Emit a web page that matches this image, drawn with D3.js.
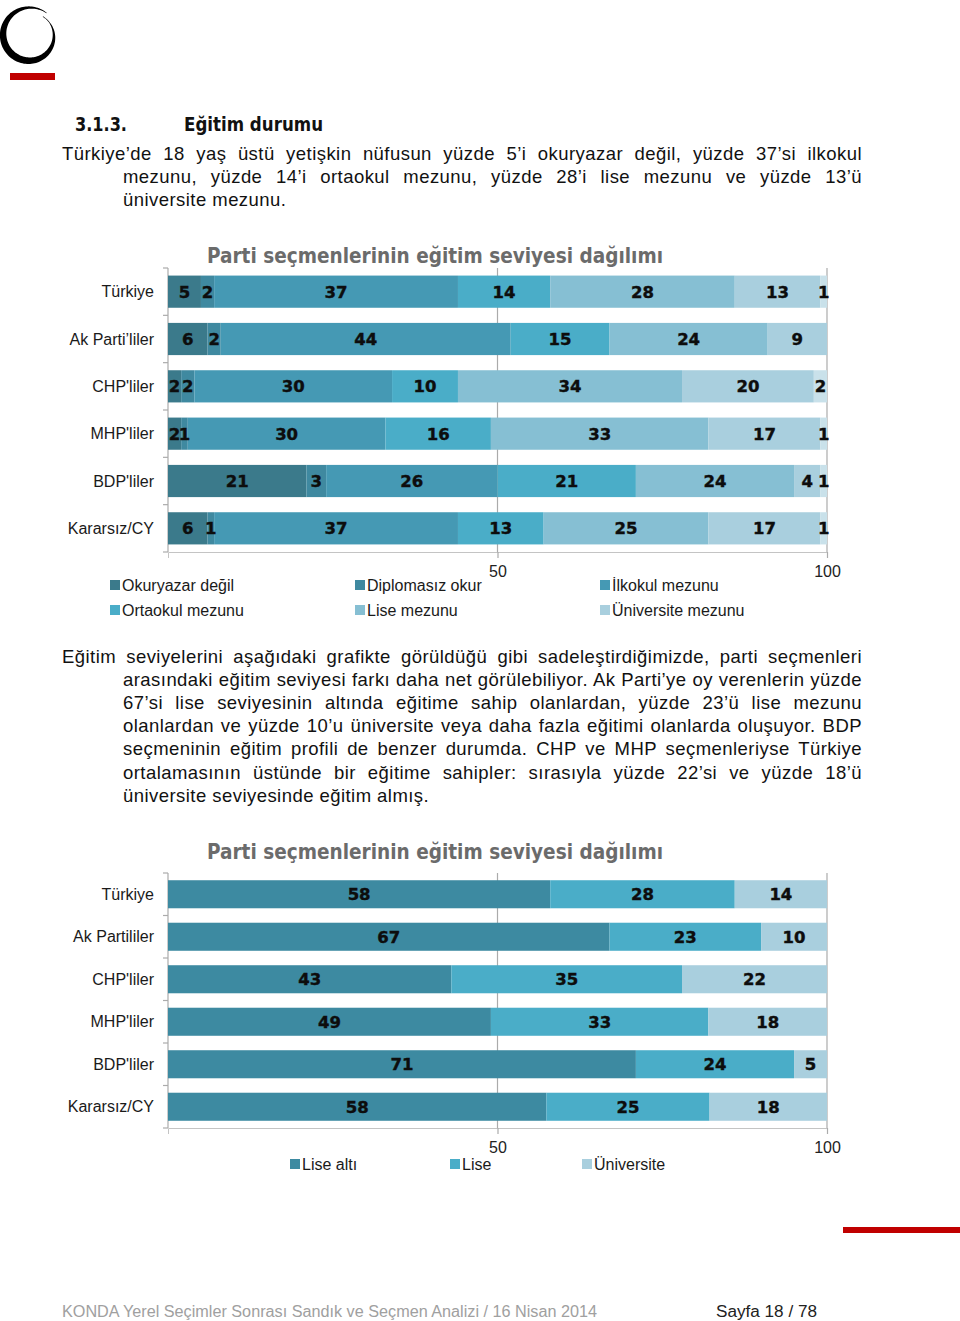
<!DOCTYPE html>
<html lang="tr">
<head>
<meta charset="utf-8">
<script src="https://cdn.jsdelivr.net/npm/d3@7"></script>
<style>
  html, body { margin: 0; padding: 0; background: #fff; }
  body { width: 960px; height: 1321px; position: relative; overflow: hidden; }
  svg { position: absolute; left: 0; top: 0; }
  .line { position: absolute; font-family: "Liberation Sans", Arial, sans-serif; font-size: 18.5px;
          letter-spacing: 0.45px; line-height: 23px; color: #111; white-space: nowrap; }
  .just { text-align: justify; text-align-last: justify; }
</style>
</head>
<body>
<svg id="page" width="960" height="1321"></svg>
<script>
// ---------------- DATA ----------------
const categories1 = ["Türkiye", "Ak Parti’liler", "CHP'liler", "MHP'liler", "BDP'liler", "Kararsız/CY"];
const series1 = ["Okuryazar değil", "Diplomasız okur", "İlkokul mezunu", "Ortaokul mezunu", "Lise mezunu", "Üniversite mezunu", "Lisansüstü"];
const legend1 = ["Okuryazar değil", "Diplomasız okur", "İlkokul mezunu", "Ortaokul mezunu", "Lise mezunu", "Üniversite mezunu"];
const okuryazarDegil = [5, 6, 2, 2, 21, 6];
const diplomasizOkur = [2, 2, 2, 1, 3, 1];
const ilkokulMezunu  = [37, 44, 30, 30, 26, 37];
const ortaokulMezunu = [14, 15, 10, 16, 21, 13];
const liseMezunu     = [28, 24, 34, 33, 24, 25];
const universiteMez  = [13, 9, 20, 17, 4, 17];
const lisansustu     = [1, 0, 2, 1, 1, 1];

const categories2 = ["Türkiye", "Ak Partililer", "CHP'liler", "MHP'liler", "BDP'liler", "Kararsız/CY"];
const series2 = ["Lise altı", "Lise", "Üniversite"];
const liseAlti   = [58, 67, 43, 49, 71, 58];
const lise       = [28, 23, 35, 33, 24, 25];
const universite = [14, 10, 22, 18, 5, 18];

const axisTicks = [50, 100];
const chartTitle = "Parti seçmenlerinin eğitim seviyesi dağılımı";

// ---------------- STYLES ----------------
const colors1 = ["#3b7a8b", "#3f89a0", "#4599b4", "#4aadc8", "#86bfd3", "#a9cfde", "#c9e1ea"];
const colors2 = ["#3d8aa1", "#4aadc8", "#a9cfde"];
const svg = d3.select("#page");

// ---------------- PAGE DECORATION (logo) ----------------
(function logo() {
  const cx = 30, cy = 35, n = 120;
  const pts = d3.range(n + 1).map(i => i / n);
  const ang = t => (53 + t * 362) * Math.PI / 180;
  const R = t => 27.5 - 5 * t * t;
  const W = t => 0.6 + 6.5 * Math.pow(Math.sin(Math.PI * Math.min(1, t * 1.05)), 1.2);
  const outer = pts.map(t => [cx + (R(t) + W(t) / 2) * Math.cos(ang(t)), cy - (R(t) + W(t) / 2) * Math.sin(ang(t))]);
  const inner = pts.map(t => [cx + (R(t) - W(t) / 2) * Math.cos(ang(t)), cy - (R(t) - W(t) / 2) * Math.sin(ang(t))]).reverse();
  svg.append("path").attr("d", d3.line()(outer.concat(inner)) + "Z").attr("fill", "#000");
})();
svg.append("rect").attr("x", 10).attr("y", 73).attr("width", 45).attr("height", 7).attr("fill", "#c00000");
svg.append("rect").attr("x", 843).attr("y", 1227).attr("width", 117).attr("height", 6).attr("fill", "#c00000");

const headFont = "'DejaVu Sans Condensed', 'DejaVu Sans', sans-serif";
svg.append("text").attr("x", 75).attr("y", 131).attr("font-family", headFont).attr("font-weight", "bold")
  .attr("font-size", 19).attr("fill", "#111").attr("textLength", 52).attr("lengthAdjust", "spacingAndGlyphs").text("3.1.3.");
svg.append("text").attr("x", 184).attr("y", 131).attr("font-family", headFont).attr("font-weight", "bold")
  .attr("font-size", 19).attr("fill", "#111").attr("textLength", 139).attr("lengthAdjust", "spacingAndGlyphs").text("Eğitim durumu");

svg.append("text").attr("x", 62).attr("y", 1317).attr("font-family", "'Liberation Sans', Arial, sans-serif")
  .attr("font-size", 16).attr("fill", "#a0a0a0").attr("textLength", 535).attr("lengthAdjust", "spacingAndGlyphs")
  .text("KONDA Yerel Seçimler Sonrası Sandık ve Seçmen Analizi / 16 Nisan 2014");
svg.append("text").attr("x", 716).attr("y", 1317).attr("font-family", "'Liberation Sans', Arial, sans-serif")
  .attr("font-size", 16).attr("fill", "#222").attr("textLength", 101).attr("lengthAdjust", "spacingAndGlyphs")
  .text("Sayfa 18 / 78");

// ---------------- PARAGRAPHS ----------------
const paraLines = [
  {x: 62,  y: 153, j: true,  t: "Türkiye’de 18 yaş üstü yetişkin nüfusun yüzde 5’i okuryazar değil, yüzde 37’si ilkokul"},
  {x: 123, y: 176, j: true,  t: "mezunu, yüzde 14’i ortaokul mezunu, yüzde 28’i lise mezunu ve yüzde 13’ü"},
  {x: 123, y: 199, j: false, t: "üniversite mezunu."},
  {x: 62,  y: 656, j: true,  t: "Eğitim seviyelerini aşağıdaki grafikte görüldüğü gibi sadeleştirdiğimizde, parti seçmenleri"},
  {x: 123, y: 679, j: true,  t: "arasındaki eğitim seviyesi farkı daha net görülebiliyor. Ak Parti’ye oy verenlerin yüzde"},
  {x: 123, y: 702, j: true,  t: "67’si lise seviyesinin altında eğitime sahip olanlardan, yüzde 23’ü lise mezunu"},
  {x: 123, y: 725, j: true,  t: "olanlardan ve yüzde 10’u üniversite veya daha fazla eğitimi olanlarda oluşuyor. BDP"},
  {x: 123, y: 748, j: true,  t: "seçmeninin eğitim profili de benzer durumda. CHP ve MHP seçmenleriyse Türkiye"},
  {x: 123, y: 772, j: true,  t: "ortalamasının üstünde bir eğitime sahipler: sırasıyla yüzde 22’si ve yüzde 18’ü"},
  {x: 123, y: 795, j: false, t: "üniversite seviyesinde eğitim almış."}
];
d3.select("body").selectAll("div.line").data(paraLines).enter().append("div")
  .attr("class", d => "line" + (d.j ? " just" : ""))
  .style("left", d => d.x + "px")
  .style("top", d => (d.y - 11.5) + "px")
  .style("width", d => (862 - d.x) + "px")
  .text(d => d.t);

// ---------------- CHART HELPER ----------------
function drawChart(opts) {
  const {categories, keys, valueArrays, colors, top, bottom, padIn, padOut, titleY, legend} = opts;
  const rows = categories.map((c, i) => {
    const r = {cat: c};
    keys.forEach((k, j) => r[k] = valueArrays[j][i]);
    return r;
  });
  const stack = d3.stack().keys(keys).offset(d3.stackOffsetExpand);
  const layers = stack(rows);

  const x = d3.scaleLinear().domain([0, 1]).range([168, 827]);
  const y = d3.scaleBand().domain(categories).range([top, bottom]).paddingInner(padIn).paddingOuter(padOut);
  const g = svg.append("g");

  // title
  g.append("text").attr("x", 207).attr("y", titleY).attr("font-family", headFont).attr("font-weight", "bold")
    .attr("font-size", 21).attr("fill", "#6b6b6b").attr("textLength", 456).attr("lengthAdjust", "spacingAndGlyphs")
    .text(chartTitle);

  // gridlines at ticks
  g.selectAll("line.grid").data(axisTicks).enter().append("line")
    .attr("x1", d => x(d / 100)).attr("x2", d => x(d / 100))
    .attr("y1", top).attr("y2", bottom).attr("stroke", "#ababab").attr("stroke-width", 1.2);

  // bottom axis
  const ax = g.append("g").attr("transform", `translate(0,${bottom})`)
    .call(d3.axisBottom(x).tickValues(axisTicks.map(t => t / 100)).tickFormat(d => String(Math.round(d * 100)))
      .tickSizeInner(6).tickSizeOuter(6).tickPadding(8));
  ax.select(".domain").attr("stroke", "#c4c4c4");
  ax.selectAll(".tick line").attr("stroke", "#ababab").attr("stroke-width", 1.2);
  ax.selectAll(".tick text").attr("font-family", "'Liberation Sans', Arial, sans-serif").attr("font-size", 16).attr("fill", "#222");

  // left axis line with ticks at band boundaries
  g.append("line").attr("x1", 168).attr("x2", 168).attr("y1", top).attr("y2", bottom)
    .attr("stroke", "#ababab").attr("stroke-width", 1.2);
  const step = y.step();
  const bounds = d3.range(categories.length + 1).map(i => top + i * step);
  g.selectAll("line.ltick").data(bounds).enter().append("line")
    .attr("x1", 163).attr("x2", 168).attr("y1", d => d).attr("y2", d => d)
    .attr("stroke", "#ababab").attr("stroke-width", 1.2);

  // category labels
  g.selectAll("text.cat").data(categories).enter().append("text")
    .attr("x", 154).attr("y", d => y(d) + y.bandwidth() / 2).attr("dy", "0.35em")
    .attr("text-anchor", "end").attr("font-family", "'Liberation Sans', Arial, sans-serif")
    .attr("font-size", 16).attr("fill", "#1a1a1a").text(d => d);

  // bars
  const lg = g.selectAll("g.layer").data(layers).enter().append("g")
    .attr("fill", (d, i) => colors[i]);
  lg.selectAll("rect").data(d => d).enter().append("rect")
    .attr("x", d => x(d[0])).attr("width", d => x(d[1]) - x(d[0]))
    .attr("y", d => y(d.data.cat)).attr("height", y.bandwidth());

  // value labels
  layers.forEach((layer) => {
    g.selectAll(null).data(layer.filter(d => d.data[layer.key] > 0)).enter().append("text")
      .attr("x", d => (x(d[0]) + x(d[1])) / 2)
      .attr("y", d => y(d.data.cat) + y.bandwidth() / 2).attr("dy", "0.36em")
      .attr("text-anchor", "middle").attr("font-family", "'DejaVu Sans', sans-serif").attr("font-weight", "bold")
      .attr("font-size", 16.5).attr("fill", "#0d0d0d").attr("stroke", "#0d0d0d").attr("stroke-width", 0.4)
      .text(d => d.data[layer.key]);
  });

  // legend
  const lgd = g.selectAll("g.lgd").data(legend.items).enter().append("g")
    .attr("transform", (d, i) => `translate(${legend.xs[i % legend.xs.length]},${legend.ys[Math.floor(i / legend.xs.length)]})`);
  lgd.append("rect").attr("x", 0).attr("y", -5).attr("width", 10).attr("height", 10)
    .attr("fill", d => colors[keys.indexOf(d)]);
  lgd.append("text").attr("x", 12).attr("dy", "0.35em").attr("font-family", "'Liberation Sans', Arial, sans-serif")
    .attr("font-size", 16).attr("fill", "#1a1a1a").text(d => d);
}

drawChart({
  categories: categories1, keys: series1,
  valueArrays: [okuryazarDegil, diplomasizOkur, ilkokulMezunu, ortaokulMezunu, liseMezunu, universiteMez, lisansustu],
  colors: colors1, top: 268, bottom: 552, padIn: 0.32, padOut: 0.16, titleY: 263,
  legend: {items: legend1, xs: [110, 355, 600], ys: [585, 610]}
});

drawChart({
  categories: categories2, keys: series2,
  valueArrays: [liseAlti, lise, universite],
  colors: colors2, top: 873, bottom: 1128, padIn: 0.34, padOut: 0.17, titleY: 859,
  legend: {items: series2, xs: [290, 450, 582], ys: [1164]}
});
</script>
</body>
</html>
